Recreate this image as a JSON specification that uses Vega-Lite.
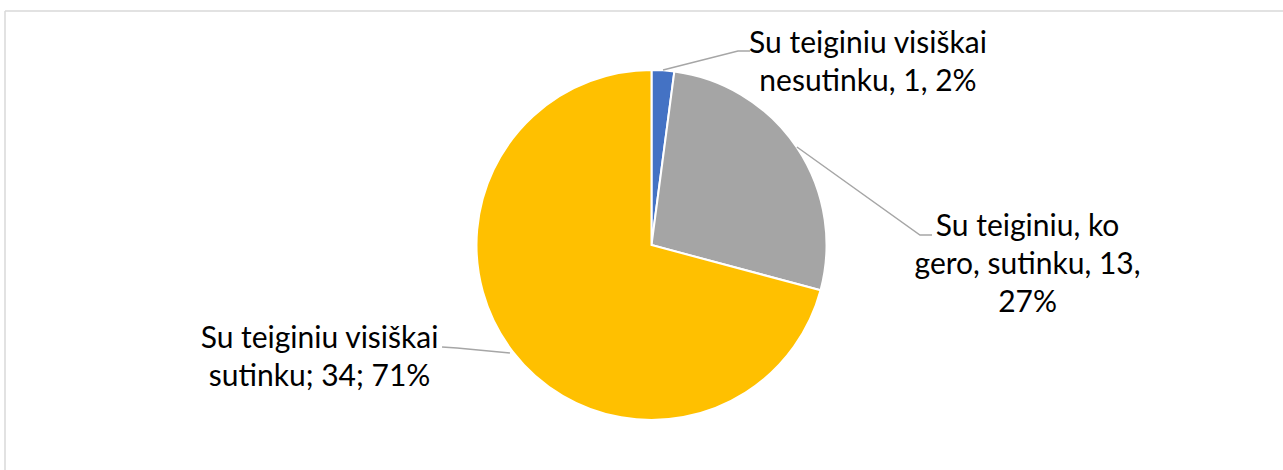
{
  "$schema": "https://vega.github.io/schema/vega-lite/v6.json",
  "width": 1278,
  "height": 459,
  "autosize": {"type": "none"},
  "padding": {"left": 5, "top": 11, "right": 0, "bottom": 0},
  "background": "white",
  "view": {"stroke": null},
  "config": {"font": "Lato"},
  "datasets": {
    "slices": [
      {"category": "Su teiginiu visiškai nesutinku", "count": 1, "order": 1},
      {"category": "Su teiginiu, ko gero, sutinku", "count": 13, "order": 2},
      {"category": "Su teiginiu visiškai sutinku", "count": 34, "order": 3}
    ],
    "labels": [
      {"category": "Su teiginiu visiškai nesutinku", "label": "Su teiginiu visiškai\nnesutinku, 1, 2%", "lx": 1.237, "ly": 1.097},
      {"category": "Su teiginiu, ko gero, sutinku", "label": "Su teiginiu, ko\ngero, sutinku, 13,\n27%", "lx": 2.149, "ly": 0.051},
      {"category": "Su teiginiu visiškai sutinku", "label": "Su teiginiu visiškai\nsutinku; 34; 71%", "lx": -1.897, "ly": -0.586}
    ],
    "leaders": [
      {"category": "A", "step": 1, "lx": 0.066, "ly": 1.0},
      {"category": "A", "step": 2, "lx": 0.494, "ly": 1.109},
      {"category": "A", "step": 3, "lx": 0.563, "ly": 1.109},
      {"category": "B", "step": 1, "lx": 0.831, "ly": 0.56},
      {"category": "B", "step": 2, "lx": 1.534, "ly": 0.057},
      {"category": "B", "step": 3, "lx": 1.603, "ly": 0.057},
      {"category": "C", "step": 1, "lx": -0.809, "ly": -0.617},
      {"category": "C", "step": 2, "lx": -1.111, "ly": -0.589},
      {"category": "C", "step": 3, "lx": -1.197, "ly": -0.583}
    ]
  },
  "layer": [
    {
      "data": {"values": [{}]},
      "mark": {"type": "rule", "color": "#d9d9d9", "strokeWidth": 1.5},
      "encoding": {
        "y": {"datum": 1.33714, "type": "quantitative", "scale": {"domain": [-1.28571, 1.33714]}, "axis": null}
      }
    },
    {
      "data": {"values": [{}]},
      "mark": {"type": "rule", "color": "#d9d9d9", "strokeWidth": 1.5},
      "encoding": {
        "x": {"datum": -3.69429, "type": "quantitative", "scale": {"domain": [-3.69429, 3.60857]}, "axis": null}
      }
    },
    {
      "data": {"name": "slices"},
      "mark": {"type": "arc", "outerRadius": 175, "stroke": "white", "strokeWidth": 2},
      "encoding": {
        "x": {"datum": 0, "type": "quantitative", "scale": {"domain": [-3.69429, 3.60857]}, "axis": null},
        "y": {"datum": 0, "type": "quantitative", "scale": {"domain": [-1.28571, 1.33714]}, "axis": null},
        "theta": {"field": "count", "type": "quantitative", "stack": true},
        "order": {"field": "order", "type": "quantitative"},
        "color": {
          "field": "category",
          "type": "nominal",
          "scale": {
            "domain": ["Su teiginiu visiškai nesutinku", "Su teiginiu, ko gero, sutinku", "Su teiginiu visiškai sutinku"],
            "range": ["#4472C4", "#A5A5A5", "#FFC000"]
          },
          "legend": null
        }
      }
    },
    {
      "data": {"name": "leaders"},
      "mark": {"type": "line", "color": "#a6a6a6", "strokeWidth": 1.5},
      "encoding": {
        "x": {"field": "lx", "type": "quantitative", "scale": {"domain": [-3.69429, 3.60857]}, "axis": null},
        "y": {"field": "ly", "type": "quantitative", "scale": {"domain": [-1.28571, 1.33714]}, "axis": null},
        "detail": {"field": "category"},
        "order": {"field": "step", "type": "quantitative"}
      }
    },
    {
      "data": {"name": "labels"},
      "mark": {"type": "text", "font": "Lato", "fontSize": 30, "lineBreak": "\n", "lineHeight": 38, "align": "center", "baseline": "alphabetic", "color": "#000000"},
      "encoding": {
        "x": {"field": "lx", "type": "quantitative", "scale": {"domain": [-3.69429, 3.60857]}, "axis": null},
        "y": {"field": "ly", "type": "quantitative", "scale": {"domain": [-1.28571, 1.33714]}, "axis": null},
        "text": {"field": "label"}
      }
    }
  ]
}
